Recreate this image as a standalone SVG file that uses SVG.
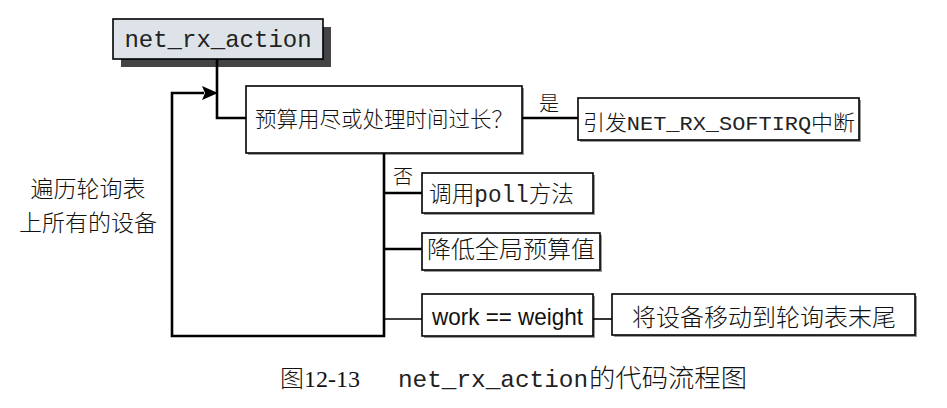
<svg xmlns="http://www.w3.org/2000/svg" width="947" height="408" viewBox="0 0 947 408">
<style>
.box{fill:#fff;stroke:#000;stroke-width:1.6}
.sh{fill:#999}
.cn{font-family:"Liberation Serif","Noto Sans CJK SC",serif;fill:#111;font-weight:300}
.mono{font-family:"Liberation Mono",monospace;fill:#222}
.ln{fill:none;stroke:#000;stroke-width:2.6}
.thin{fill:none;stroke:#000;stroke-width:1.6}
</style>
<rect width="947" height="408" fill="#fff"/>
<g id="start">
<rect x="121" y="27" width="210" height="40" fill="#444"/>
<rect x="113" y="19" width="210" height="40" fill="#dde3e8" stroke="#000" stroke-width="1.6"/>
<text x="218" y="47" class="mono" font-size="24" text-anchor="middle">net_rx_action</text>
</g>
<g id="decision">
<rect x="248" y="88" width="276" height="67" class="sh"/>
<rect x="246" y="86" width="276" height="67" class="box"/>
<text x="384" y="127" class="cn" font-size="21.5" text-anchor="middle">预算用尽或处理时间过长？</text>
</g>
<g id="softirq">
<rect x="580" y="100" width="281" height="42" class="sh"/>
<rect x="578" y="98" width="281" height="42" class="box"/>
<text x="583" y="130" font-size="21" textLength="272" lengthAdjust="spacingAndGlyphs"><tspan class="cn">引发</tspan><tspan class="mono">NET_RX_SOFTIRQ</tspan><tspan class="cn">中断</tspan></text>
</g>
<g id="poll">
<rect x="424" y="175" width="171" height="40" class="sh"/>
<rect x="422" y="173" width="171" height="40" class="box"/>
<text x="429" y="202" font-size="23" textLength="145" lengthAdjust="spacingAndGlyphs"><tspan class="cn">调用</tspan><tspan class="mono">poll</tspan><tspan class="cn">方法</tspan></text>
</g>
<g id="budget">
<rect x="424" y="235" width="178" height="37" class="sh"/>
<rect x="422" y="233" width="178" height="37" class="box"/>
<text x="511" y="258" class="cn" font-size="24" text-anchor="middle">降低全局预算值</text>
</g>
<g id="weight">
<rect x="424" y="296" width="171" height="42" class="sh"/>
<rect x="422" y="294" width="171" height="42" class="box"/>
<text x="432" y="325" font-family="Liberation Sans,Arial,sans-serif" font-size="24" textLength="151" lengthAdjust="spacingAndGlyphs" fill="#111">work == weight</text>
</g>
<g id="move">
<rect x="614" y="296" width="303" height="41" class="sh"/>
<rect x="612" y="294" width="303" height="41" class="box"/>
<text x="764" y="326" class="cn" font-size="24" text-anchor="middle">将设备移动到轮询表末尾</text>
</g>
<g id="loop-label">
<text x="88" y="197" class="cn" font-size="23" text-anchor="middle">遍历轮询表</text>
<text x="88" y="231" class="cn" font-size="23" text-anchor="middle">上所有的设备</text>
</g>
<g id="connectors">
<polyline class="ln" points="217,59 217,118 246,118"/>
<polyline class="ln" points="384,153 384,336 172,336 172,93 204,93"/>
<polygon points="218,93 202,86 205,93 202,100" fill="#000"/>
<line class="ln" x1="522" y1="118" x2="578" y2="118"/>
<text x="549" y="111" class="cn" font-size="20" text-anchor="middle">是</text>
<line class="ln" x1="384" y1="193" x2="422" y2="193"/>
<text x="403" y="184" class="cn" font-size="20" text-anchor="middle">否</text>
<line class="ln" x1="384" y1="249" x2="422" y2="249"/>
<line class="thin" x1="384" y1="319" x2="422" y2="319"/>
<line class="thin" x1="593" y1="319" x2="612" y2="319"/>
</g>
<g id="caption">
<text x="280" y="387" class="cn" font-size="24">图12-13</text>
<text x="398" y="387" class="mono" font-size="24" textLength="190" lengthAdjust="spacingAndGlyphs">net_rx_action</text>
<text x="589" y="387" class="cn" font-size="25" textLength="158" lengthAdjust="spacingAndGlyphs">的代码流程图</text>
</g>
</svg>
